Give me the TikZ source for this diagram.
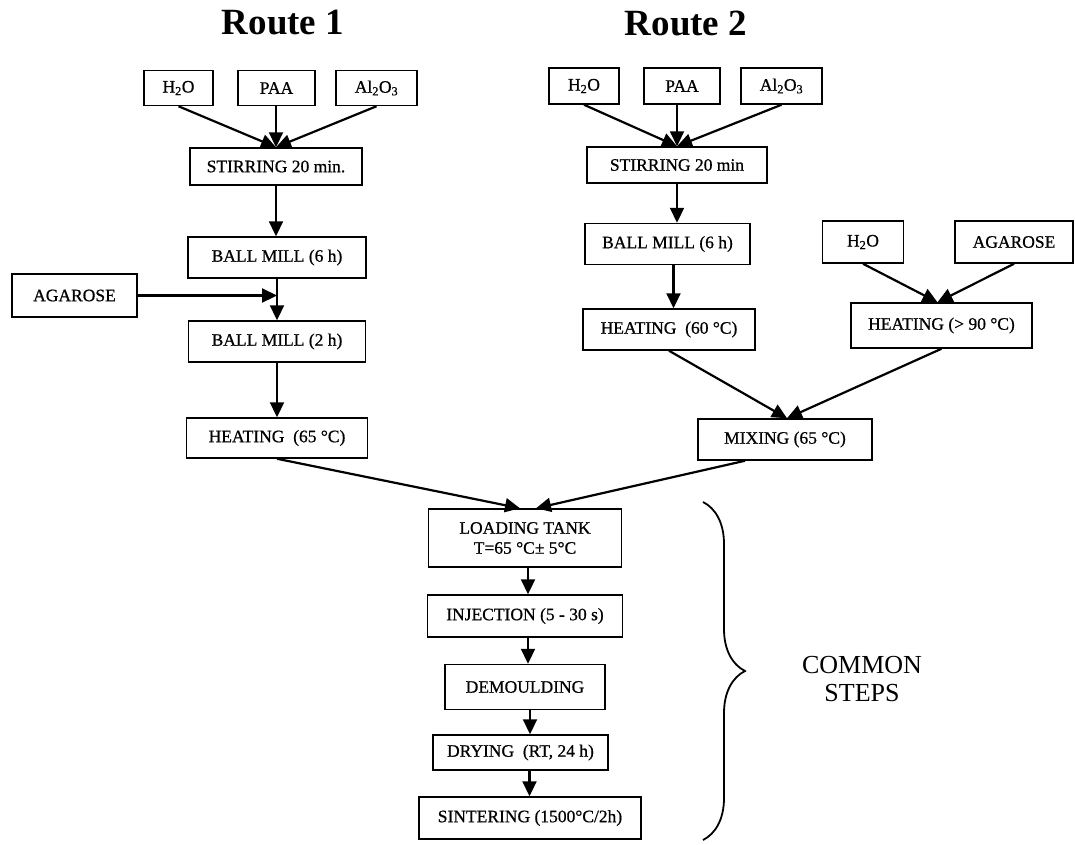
\documentclass[tikz,border=0pt]{standalone}
\usepackage{fontspec}
\setmainfont{Liberation Serif}
\newfontfamily\boxfont[FakeBold=0.7]{Liberation Serif}
\usetikzlibrary{arrows.meta,positioning,calc,decorations.pathreplacing}

\begin{document}
\begin{tikzpicture}[x=1pt,y=-1pt,
  box/.style={draw,line width=1.5pt,minimum height=41,inner sep=2pt,
    font=\boxfont\fontsize{17.5}{20}\selectfont,align=center},
  arr/.style={line width=2.2pt,-{Triangle[length=15pt,width=14pt]}},
  title/.style={font=\fontsize{37}{40}\selectfont\bfseries}]
  \useasboundingbox (0,0) rectangle (1075,844);

  % titles
  \node[title] (t1) at (283,23) {Route 1};
  \node[title] (t2) at (686,23) {Route 2};

  % route 1
  \node[box,minimum width=69,minimum height=35]  (r1w)   at (178.5,88) {H\textsubscript{2}O};
  \node[box,minimum width=77,minimum height=35]  (r1p)   at (276.5,88) {PAA};
  \node[box,minimum width=81,minimum height=35]  (r1a)   at (376.5,88) {Al\textsubscript{2}O\textsubscript{3}};
  \node[box,minimum width=172,minimum height=37] (r1st)  at (276,166.5) {STIRRING 20 min.};
  \node[box,minimum width=178] (r1m6)  at (277,257.5) {BALL MILL (6 h)};
  \node[box,minimum width=125,minimum height=43] (r1ag)  at (74.5,295.5) {AGAROSE};
  \node[box,minimum width=177] (r1m2)  at (277,341.5) {BALL MILL (2 h)};
  \node[box,minimum width=181,minimum height=40] (r1ht)  at (277,438) {HEATING\ \ (65 °C)};

  \draw[arr] (r1w.south) -- (r1st.north);
  \draw[arr] (r1st.north |- r1p.south) -- (r1st.north);
  \draw[arr] (r1a.south) -- (r1st.north);
  \draw[arr] (r1st.south) -- (r1st.south |- r1m6.north);
  \draw[arr] (r1m6) -- (r1m2);
  \draw[arr] (r1ag.east) -- (r1ag.east -| r1m6.south);
  \draw[arr] (r1m2) -- (r1ht);

  % route 2
  \node[box,minimum width=70,minimum height=36]  (r2w)   at (584,86) {H\textsubscript{2}O};
  \node[box,minimum width=76,minimum height=36]  (r2p)   at (682,86) {PAA};
  \node[box,minimum width=81,minimum height=36]  (r2a)   at (781.5,86) {Al\textsubscript{2}O\textsubscript{3}};
  \node[box,minimum width=180,minimum height=36] (r2st)  at (677,165) {STIRRING 20 min};
  \node[box,minimum width=165] (r2m6)  at (667.5,244) {BALL MILL (6 h)};
  \node[box,minimum width=81,minimum height=42]  (r2w2)  at (863,242) {H\textsubscript{2}O};
  \node[box,minimum width=118,minimum height=42] (r2ag)  at (1014,242) {AGAROSE};
  \node[box,minimum width=172] (r2ht)  at (669,329.5) {HEATING\ \ (60 °C)};
  \node[box,minimum width=181,minimum height=45] (r2hh)  at (941.5,325.5) {HEATING (> 90 °C)};
  \node[box,minimum width=174] (mix)   at (785,439.5) {MIXING (65 °C)};

  \draw[arr] (r2w.south) -- (r2st.north);
  \draw[arr] (r2st.north |- r2p.south) -- (r2st.north);
  \draw[arr] (r2a.south) -- (r2st.north);
  \draw[arr] (r2st.south) -- (r2st.south |- r2m6.north);
  \draw[arr] ([xshift=6]r2m6.south) -- ([xshift=6]r2m6.south |- r2ht.north);
  \draw[arr] (r2w2.south) -- ([xshift=-4]r2hh.north);
  \draw[arr] (r2ag.south) -- ([xshift=-4]r2hh.north);
  \draw[arr] (r2ht.south) -- ([xshift=2]mix.north);
  \draw[arr] (r2hh.south) -- ([xshift=2]mix.north);

  % common steps
  \node[box,minimum width=193,minimum height=58] (load)  at (525,538) {LOADING TANK\\T=65 °C± 5°C};
  \node[box,minimum width=195,minimum height=42] (inj)   at (525,616) {INJECTION (5 - 30 s)};
  \node[box,minimum width=160,minimum height=45] (dem)   at (525,687) {DEMOULDING};
  \node[box,minimum width=175,minimum height=35] (dry)   at (520.5,752.5) {DRYING\ \ (RT, 24 h)};
  \node[box,minimum width=222,minimum height=42] (sint)  at (530,818) {SINTERING (1500°C/2h)};

  \draw[arr] (r1ht.south) -- ([xshift=-5]load.north);
  \draw[arr] ([xshift=-40]mix.south) -- ([xshift=11]load.north);
  \draw[arr] ([xshift=3]load.south) -- ([xshift=3]load.south |- inj.north);
  \draw[arr] ([xshift=3]inj.south) -- ([xshift=3]inj.south |- dem.north);
  \draw[arr] ([xshift=5]dem.south) -- ([xshift=5]dem.south |- dry.north);
  \draw[arr] ([xshift=9]dry.south) -- ([xshift=9]dry.south |- sint.north);

  % brace
  \coordinate (bt) at (703,502);
  \coordinate (bb) at (703,840);
  \draw[line width=1.8pt,decorate,decoration={brace,amplitude=42pt}] (bt) -- (bb);
  \node[font=\fontsize{26}{28}\selectfont,align=center] (cs) at (862,679) {COMMON\\STEPS};
\end{tikzpicture}
\end{document}
